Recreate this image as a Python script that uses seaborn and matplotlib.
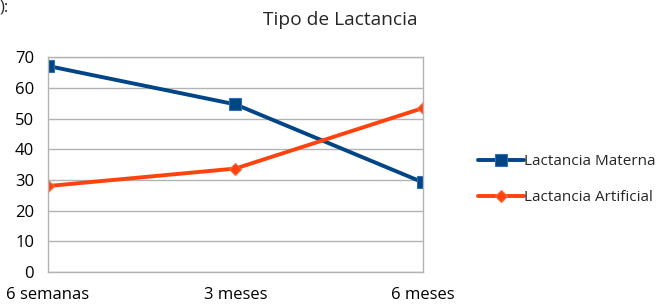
import pandas as pd
import matplotlib
matplotlib.use("Agg")
import matplotlib.pyplot as plt
import seaborn as sns

# --- Data ---
periodos = ["6 semanas", "3 meses", "6 meses"]
materna = [67.1, 54.6, 29.2]
artificial = [28.0, 33.7, 53.4]
series_names = ["Lactancia Materna", "Lactancia Artificial"]
colors = {"Lactancia Materna": "#004586", "Lactancia Artificial": "#FF420E"}


def build_df():
    rows = []
    for i, p in enumerate(periodos):
        rows.append({"pos": i, "periodo": p, "valor": materna[i], "serie": series_names[0]})
        rows.append({"pos": i, "periodo": p, "valor": artificial[i], "serie": series_names[1]})
    return pd.DataFrame(rows)


def main():
    sns.set_theme(style="white")
    plt.rcParams['font.family'] = ['Open Sans', 'DejaVu Sans']

    df = build_df()
    fig = plt.figure(figsize=(6.67, 3.07), dpi=100)
    ax = fig.add_axes([0.072, 0.114, 0.562, 0.700])

    sns.lineplot(data=df, x="pos", y="valor", hue="serie", style="serie",
                 markers={"Lactancia Materna": "s", "Lactancia Artificial": "D"},
                 dashes=False, palette=colors, linewidth=2.8, ax=ax,
                 markersize=8, markeredgewidth=0.8, legend=True)
    # diamonds a bit smaller
    for line in ax.lines:
        if line.get_marker() == "D":
            line.set_markersize(6.5)
            line.set_markeredgecolor("#FF6A3A")
        elif line.get_marker() == "s":
            line.set_markeredgecolor("#2F6DB5")

    ax.set_xlim(0, 2)
    ax.set_ylim(0, 70)
    ax.set_yticks(range(0, 71, 10))
    ax.set_xticks(range(len(periodos)))
    ax.set_xticklabels(periodos)
    ax.grid(axis="y", color="#b3b3b3", linewidth=1)
    ax.set_axisbelow(True)
    for s in ax.spines.values():
        s.set_color("#b3b3b3")
        s.set_linewidth(1)
    ax.tick_params(axis="both", length=0, labelsize=12, colors="black")
    ax.tick_params(axis="y", pad=10)
    ax.tick_params(axis="x", pad=11)
    ax.set_xlabel("")
    ax.set_ylabel("")

    fig.text(0.51, 0.935, "Tipo de Lactancia", ha="center", va="center", fontsize=13.8)
    fig.text(0.0, 0.975, "):", ha="left", va="center", fontsize=12)

    handles, labels = ax.get_legend_handles_labels()
    ax.legend(handles, labels, loc="center left", bbox_to_anchor=(1.13, 0.43),
              frameon=False, fontsize=11, handlelength=3.0, handletextpad=0.0,
              labelspacing=1.4, borderaxespad=0)

    fig.savefig("out.png", dpi=100)
    plt.close(fig)


if __name__ == "__main__":
    main()
